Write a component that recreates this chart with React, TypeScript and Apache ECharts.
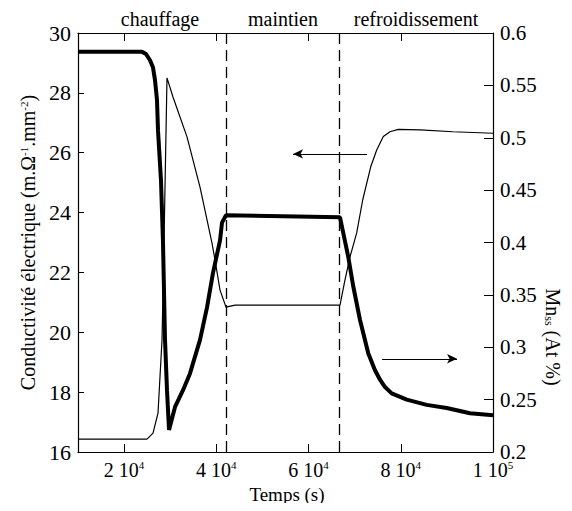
import React, { useEffect, useRef } from "react";
import * as echarts from "echarts";

const FONT = "Liberation Serif, serif";

// Conductivité électrique (left axis), thin line
const condTime = [10000, 24960, 26270, 27350, 28220, 28650, 29300, 30600, 33640, 36460, 39060, 39710, 40800, 42100, 44050, 66820, 67900, 68990, 70440, 71740, 73480, 74780, 76210, 77660, 79460, 84170, 91330, 100000];
const condValues = [16.43, 16.43, 16.63, 17.3, 19.74, 23.0, 28.5, 27.86, 26.53, 24.85, 22.98, 22.42, 21.41, 20.84, 20.91, 20.91, 21.75, 22.52, 23.32, 24.42, 25.53, 26.09, 26.54, 26.7, 26.78, 26.76, 26.7, 26.65];

// Mn_ss (right axis), thick line
const mnTime = [10000, 23880, 24750, 25615, 26270, 26700, 27130, 27350, 28000, 28435, 28870, 29300, 29740, 31040, 32770, 34290, 36460, 37980, 39280, 40800, 41230, 42100, 66820, 68620, 69700, 71160, 72960, 74410, 75500, 76580, 78030, 81290, 85620, 89960, 95010, 100000];
const mnValues = [0.582, 0.582, 0.58, 0.574, 0.567, 0.555, 0.536, 0.507, 0.459, 0.4, 0.307, 0.259, 0.221, 0.243, 0.259, 0.275, 0.307, 0.338, 0.371, 0.402, 0.419, 0.426, 0.424, 0.386, 0.358, 0.326, 0.294, 0.278, 0.269, 0.262, 0.256, 0.25, 0.245, 0.242, 0.237, 0.235];

const xTicks = [20000, 40000, 60000, 80000, 100000];
const phaseBounds = [42100, 66700];
const phaseLabels = ["chauffage", "maintien", "refroidissement"];

// arrows (data coordinates): [fromT, toT, value]
const condArrow = [72680, 56630, 25.96];
const mnArrow = [75930, 92200, 0.289];

export default function App() {
  const ref = useRef<HTMLDivElement>(null);
  useEffect(() => {
    if (!ref.current) return;
    const chart = echarts.init(ref.current, null, { renderer: "svg" });
    const black = "#000";
    const fmtX = (v: number) => {
      const e = Math.floor(Math.log10(v) + 1e-9);
      const m = Math.round(v / Math.pow(10, e));
      return `{n|${m} 10}{s|${e}}`;
    };
    const supStyle = { fontSize: 11, fontFamily: FONT, color: black, verticalAlign: "top", lineHeight: 11 };
    const option: any = {
      animation: false,
      backgroundColor: "#fff",
      textStyle: { fontFamily: FONT },
      grid: { left: 78, right: 79, top: 33, bottom: 59 },
      xAxis: [
        {
          type: "value",
          min: 10000,
          max: 100000,
          position: "bottom",
          axisLine: { show: true, onZero: false, lineStyle: { color: black, width: 1.2 } },
          axisTick: { show: true, inside: true, length: 8, customValues: xTicks, lineStyle: { color: black } },
          axisLabel: {
            customValues: xTicks,
            formatter: fmtX,
            margin: 7,
            rich: {
              n: { fontSize: 20, fontFamily: FONT, color: black, lineHeight: 22 },
              s: supStyle,
            },
          },
          splitLine: { show: false },
        },
        {
          type: "value",
          min: 10000,
          max: 100000,
          position: "top",
          axisLine: { show: true, onZero: false, lineStyle: { color: black, width: 1.2 } },
          axisTick: { show: true, inside: true, length: 8, customValues: xTicks, lineStyle: { color: black } },
          axisLabel: { show: false },
          splitLine: { show: false },
        },
      ],
      yAxis: [
        {
          type: "value",
          min: 16,
          max: 30,
          interval: 2,
          position: "left",
          axisLine: { show: true, onZero: false, lineStyle: { color: black, width: 1.2 } },
          axisTick: { show: true, inside: true, length: 6, lineStyle: { color: black } },
          axisLabel: { fontSize: 22, color: black, fontFamily: FONT, margin: 7 },
          splitLine: { show: false },
          name: "Conductivité électrique (m.Ω{s|-1}.mm{s|-2})",
          nameLocation: "middle",
          nameGap: 40,
          nameTextStyle: {
            fontSize: 20,
            color: black,
            fontFamily: FONT,
            rich: { s: supStyle },
          },
        },
        {
          type: "value",
          min: 0.2,
          max: 0.6,
          interval: 0.05,
          position: "right",
          axisLine: { show: true, onZero: false, lineStyle: { color: black, width: 1.2 } },
          axisTick: { show: true, inside: true, length: 9, lineStyle: { color: black } },
          axisLabel: {
            fontSize: 21,
            color: black,
            fontFamily: FONT,
            margin: 7,
            formatter: (v: number) => String(+v.toFixed(2)),
          },
          splitLine: { show: false },
        },
      ],
      series: [
        {
          type: "line",
          name: "Conductivité",
          xAxisIndex: 0,
          yAxisIndex: 0,
          data: condTime.map((t, i) => [t, condValues[i]]),
          showSymbol: false,
          symbol: "none",
          lineStyle: { color: black, width: 1.2 },
          markLine: {
            silent: true,
            animation: false,
            label: { show: false },
            symbol: "none",
            lineStyle: { color: black, width: 1.2, type: "solid" },
            data: [
              ...phaseBounds.map((x) => ({
                xAxis: x,
                lineStyle: { color: black, width: 1.3, type: [11, 6] },
              })),
              [
                { coord: [condArrow[0], condArrow[2]], symbol: "none" },
                { coord: [condArrow[1], condArrow[2]], symbol: "arrow", symbolSize: [7, 10] },
              ],
            ],
          },
        },
        {
          type: "line",
          name: "Mnss",
          xAxisIndex: 0,
          yAxisIndex: 1,
          data: mnTime.map((t, i) => [t, mnValues[i]]),
          showSymbol: false,
          symbol: "none",
          lineStyle: { color: black, width: 4 },
          markLine: {
            silent: true,
            animation: false,
            label: { show: false },
            symbol: ["none", "arrow"],
            symbolSize: [7, 10],
            lineStyle: { color: black, width: 1.2, type: "solid" },
            data: [
              [
                { coord: [mnArrow[0], mnArrow[2]] },
                { coord: [mnArrow[1], mnArrow[2]] },
              ],
            ],
          },
        },
      ],
      graphic: [
        {
          type: "text",
          x: 160,
          y: 19,
          style: { text: phaseLabels[0], fontSize: 20, fontFamily: FONT, fill: black, align: "center", verticalAlign: "middle" },
        },
        {
          type: "text",
          x: 283,
          y: 19,
          style: { text: phaseLabels[1], fontSize: 20, fontFamily: FONT, fill: black, align: "center", verticalAlign: "middle" },
        },
        {
          type: "text",
          x: 416,
          y: 19,
          style: { text: phaseLabels[2], fontSize: 20, fontFamily: FONT, fill: black, align: "center", verticalAlign: "middle" },
        },
        {
          type: "text",
          x: 287,
          y: 494,
          style: { text: "Temps (s)", fontSize: 19, fontFamily: FONT, fill: black, align: "center", verticalAlign: "middle" },
        },
        {
          type: "text",
          x: 553,
          y: 337,
          rotation: -Math.PI / 2,
          style: {
            text: "Mn{s|ss} (At %)",
            fontSize: 20,
            fontFamily: FONT,
            fill: black,
            align: "center",
            verticalAlign: "middle",
            rich: {
              s: { fontSize: 12, fontFamily: FONT, fill: black, verticalAlign: "bottom", lineHeight: 12 },
            },
          },
        },
      ],
    };
    chart.setOption(option);
    return () => chart.dispose();
  }, []);
  return <div ref={ref} style={{ width: 572, height: 511, margin: -8 }} />;
}
